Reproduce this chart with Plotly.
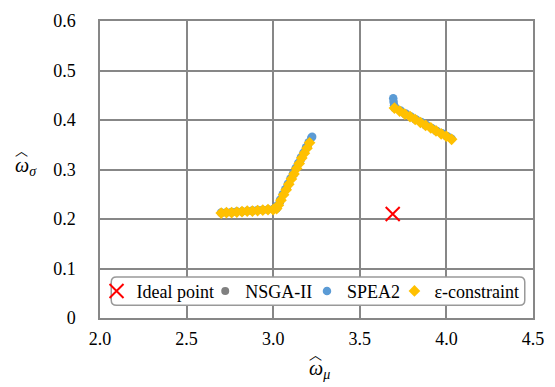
import plotly.graph_objects as go

# ---------------- data ----------------
ideal_x = [3.69]
ideal_y = [0.21]

nsga_x = [2.70, 2.76, 2.82, 2.88, 2.94, 3.00, 3.04, 3.08, 3.12, 3.16, 3.20,
          3.70, 3.76, 3.82, 3.88, 3.94, 4.00]
nsga_y = [0.212, 0.213, 0.215, 0.216, 0.218, 0.219, 0.235, 0.263, 0.291, 0.320, 0.348,
          0.424, 0.412, 0.401, 0.389, 0.378, 0.367]

spea_x = [2.70, 2.73, 2.76, 2.79, 2.82, 2.85, 2.88, 2.91, 2.94, 2.97, 3.00, 3.02,
          3.025, 3.04, 3.055, 3.07, 3.085, 3.10, 3.115, 3.13, 3.145, 3.16, 3.175, 3.19, 3.205, 3.22, 3.225,
          3.693, 3.695, 3.698, 3.705, 3.735, 3.765, 3.795, 3.825, 3.855, 3.885, 3.915, 3.945, 3.975, 4.005, 4.03]
spea_y = [0.213, 0.213, 0.214, 0.215, 0.215, 0.216, 0.217, 0.218, 0.218, 0.219, 0.220, 0.221,
          0.228, 0.239, 0.250, 0.260, 0.271, 0.282, 0.292, 0.303, 0.313, 0.324, 0.334, 0.345, 0.355, 0.364, 0.366,
          0.444, 0.437, 0.430, 0.425, 0.419, 0.413, 0.407, 0.401, 0.396, 0.390, 0.384, 0.378, 0.373, 0.367, 0.362]

eps_x = [2.70, 2.73, 2.76, 2.79, 2.82, 2.85, 2.88, 2.91, 2.94, 2.97, 3.00, 3.02,
         3.03, 3.045, 3.06, 3.075, 3.09, 3.105, 3.12, 3.135, 3.15, 3.165, 3.18, 3.195, 3.21,
         3.70, 3.73, 3.76, 3.79, 3.82, 3.85, 3.88, 3.91, 3.94, 3.97, 4.00, 4.03]
eps_y = [0.212, 0.213, 0.213, 0.214, 0.215, 0.216, 0.216, 0.217, 0.218, 0.219, 0.219, 0.221,
         0.228, 0.238, 0.249, 0.259, 0.270, 0.281, 0.291, 0.302, 0.312, 0.323, 0.333, 0.343, 0.354,
         0.424, 0.418, 0.412, 0.407, 0.401, 0.395, 0.389, 0.384, 0.378, 0.372, 0.367, 0.361]

x_ticks = [2.0, 2.5, 3.0, 3.5, 4.0, 4.5]
x_ticktext = ["2.0", "2.5", "3.0", "3.5", "4.0", "4.5"]
y_ticks = [0, 0.1, 0.2, 0.3, 0.4, 0.5, 0.6]
y_ticktext = ["0", "0.1", "0.2", "0.3", "0.4", "0.5", "0.6"]

# ---------------- figure ----------------
FONT = "Liberation Serif"
GRID = "#878787"

fig = go.Figure()
fig.add_trace(go.Scatter(x=ideal_x, y=ideal_y, mode="markers", name="Ideal point",
                         legend="legend",
                         marker=dict(symbol="x-thin", size=14, color="#ff0000",
                                     line=dict(width=2, color="#ff0000"))))
fig.add_trace(go.Scatter(x=nsga_x, y=nsga_y, mode="markers", name="NSGA-II",
                         legend="legend2",
                         marker=dict(symbol="circle", size=8, color="#808080")))
fig.add_trace(go.Scatter(x=spea_x, y=spea_y, mode="markers", name="SPEA2",
                         legend="legend3",
                         marker=dict(symbol="circle", size=8.5, color="#5b9bd5")))
fig.add_trace(go.Scatter(x=eps_x, y=eps_y, mode="markers", name="ε-constraint",
                         legend="legend4",
                         marker=dict(symbol="diamond", size=9, color="#ffc000")))

# rounded legend box (paper coords)
x0, x1, y0, y1 = 0.026, 0.981, 0.043, 0.138
rx, ry = 0.012, 0.017
path = (f"M {x0+rx},{y0} L {x1-rx},{y0} Q {x1},{y0} {x1},{y0+ry} "
        f"L {x1},{y1-ry} Q {x1},{y1} {x1-rx},{y1} L {x0+rx},{y1} "
        f"Q {x0},{y1} {x0},{y1-ry} L {x0},{y0+ry} Q {x0},{y0} {x0+rx},{y0} Z")
fig.add_shape(type="path", path=path, xref="paper", yref="paper",
              fillcolor="white", line=dict(color="#999999", width=1.5), layer="above")

def leg(xpos):
    return dict(orientation="h", x=xpos, xanchor="left", y=0.09, yanchor="middle",
                bgcolor="rgba(0,0,0,0)", borderwidth=0, itemwidth=30,
                font=dict(family=FONT, size=18, color="black"))

fig.update_layout(
    width=555, height=387,
    margin=dict(l=100, r=11, t=14, b=69),
    paper_bgcolor="white", plot_bgcolor="white",
    font=dict(family=FONT, size=18, color="black"),
    showlegend=True,
    legend=leg(-0.008), legend2=leg(0.243), legend3=leg(0.478), legend4=leg(0.680),
    xaxis=dict(range=[2.0, 4.5], tickvals=x_ticks, ticktext=x_ticktext,
               showgrid=True, gridcolor=GRID, gridwidth=1.5,
               showline=True, linecolor=GRID, linewidth=1.5, mirror=True,
               zeroline=False, ticks="", ticklabelstandoff=4,
               ticklabeloverflow="allow",
               tickfont=dict(family=FONT, size=18, color="black")),
    yaxis=dict(range=[0, 0.6], tickvals=y_ticks, ticktext=y_ticktext,
               showgrid=True, gridcolor=GRID, gridwidth=1.5,
               showline=True, linecolor=GRID, linewidth=1.5, mirror=True,
               zeroline=False, ticks="", ticklabelstandoff=19,
               ticklabeloverflow="allow",
               tickfont=dict(family=FONT, size=18, color="black")),
    annotations=[
        dict(text="<i>ω</i><sub><i>μ</i></sub>", xref="paper", yref="paper",
             x=0.507, y=-0.175, xanchor="center", yanchor="middle", showarrow=False,
             font=dict(family=FONT, size=20, color="black")),
        dict(text="︿", xref="paper", yref="paper",
             x=0.497, y=-0.118, xanchor="center", yanchor="middle", showarrow=False,
             font=dict(family="Noto Sans CJK SC", size=13, color="black")),
        dict(text="<i>ω</i><sub><i>σ</i></sub>", xref="paper", yref="paper",
             x=-0.17, y=0.51, xanchor="center", yanchor="middle", showarrow=False,
             font=dict(family=FONT, size=20, color="black")),
        dict(text="︿", xref="paper", yref="paper",
             x=-0.181, y=0.567, xanchor="center", yanchor="middle", showarrow=False,
             font=dict(family="Noto Sans CJK SC", size=13, color="black")),
    ],
)

fig.write_html("out.html")
